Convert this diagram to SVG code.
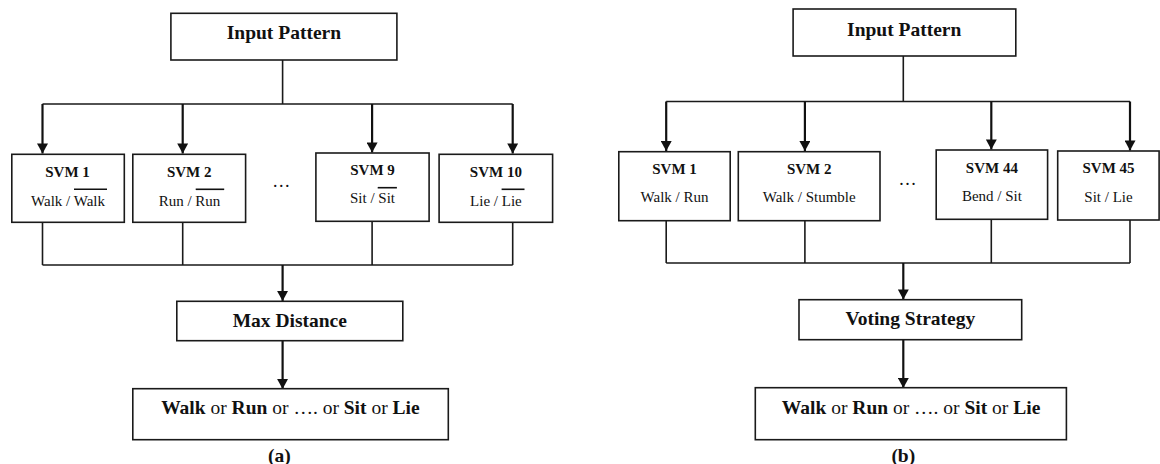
<svg xmlns="http://www.w3.org/2000/svg" width="1160" height="464" viewBox="0 0 1160 464">
<style>
.box{fill:#fff;stroke:#1a1a1a;stroke-width:1.6}
.ln{fill:none;stroke:#1a1a1a;stroke-width:1.6}
.ar{fill:none;stroke:#111;stroke-width:2.2}
.ov{stroke:#111;stroke-width:1.6}
text{font-family:"Liberation Serif","Times New Roman",serif;fill:#111;text-anchor:middle}
.big{font-size:19.5px;font-weight:bold}
.svm{font-size:15px;font-weight:bold}
.sub{font-size:15px}
.b{font-weight:bold}
.n{font-weight:normal}
</style>
<defs>
<marker id="ah" markerUnits="userSpaceOnUse" markerWidth="12" markerHeight="11" refX="11" refY="6" orient="auto" viewBox="0 0 11 12">
<path d="M0,0 L11,6 L0,12 Z" fill="#111"/>
</marker>
</defs>

<g id="connectors">
<!-- left -->
<path class="ln" d="M282.6,60 V104 M42.5,104 H512.7"/>
<path class="ar" d="M42.5,104 V153.5" marker-end="url(#ah)"/>
<path class="ar" d="M182.7,104 V153.5" marker-end="url(#ah)"/>
<path class="ar" d="M372.1,104 V152.5" marker-end="url(#ah)"/>
<path class="ar" d="M512.7,104 V153.5" marker-end="url(#ah)"/>
<path class="ln" d="M42.5,222.3 V265 M182.7,222.3 V265 M372.1,221.3 V265 M512.7,222.3 V265 M42.5,265 H512.7"/>
<path class="ar" d="M282.6,265 V301" marker-end="url(#ah)"/>
<path class="ar" d="M282.6,340.7 V389" marker-end="url(#ah)"/>
<!-- right -->
<path class="ln" d="M903.3,56 V101.5 M666.2,101.5 H1130"/>
<path class="ar" d="M666.2,101.5 V151" marker-end="url(#ah)"/>
<path class="ar" d="M804.9,101.5 V151" marker-end="url(#ah)"/>
<path class="ar" d="M991.3,101.5 V149.5" marker-end="url(#ah)"/>
<path class="ar" d="M1130,101.5 V150.5" marker-end="url(#ah)"/>
<path class="ln" d="M666.2,220.7 V263 M804.9,220.7 V263 M991.3,219.3 V263 M1130,220 V263 M666.2,263 H1130"/>
<path class="ar" d="M903.3,263 V299.5" marker-end="url(#ah)"/>
<path class="ar" d="M903.3,339.7 V388" marker-end="url(#ah)"/>
</g>

<!-- left panel -->
<g id="a-input">
<rect class="box" x="170.9" y="13.3" width="226" height="46.7"/>
<text class="big" x="283.9" y="39">Input Pattern</text>
</g>
<g id="a-svm1">
<rect class="box" x="11.8" y="154.3" width="112.5" height="68"/>
<text class="svm" x="67.5" y="176.7">SVM 1</text>
<text class="sub" x="68" y="205.7">Walk / Walk</text>
<line class="ov" x1="74" y1="189.3" x2="107" y2="189.3"/>
</g>
<g id="a-svm2">
<rect class="box" x="132.8" y="154.3" width="112.8" height="68"/>
<text class="svm" x="189.2" y="176.7">SVM 2</text>
<text class="sub" x="189.5" y="205.7">Run / Run</text>
<line class="ov" x1="195.7" y1="189.3" x2="224.2" y2="189.3"/>
</g>
<g id="a-dots">
<text class="sub" x="281.3" y="186.7" style="font-size:18px">…</text>
</g>
<g id="a-svm9">
<rect class="box" x="315.9" y="153" width="113.2" height="68.3"/>
<text class="svm" x="372.5" y="175">SVM 9</text>
<text class="sub" x="372.5" y="203.3">Sit / Sit</text>
<line class="ov" x1="377.7" y1="187.7" x2="396.9" y2="187.7"/>
</g>
<g id="a-svm10">
<rect class="box" x="439.1" y="154.3" width="113.5" height="68"/>
<text class="svm" x="495.9" y="176.7">SVM 10</text>
<text class="sub" x="495.9" y="205.7">Lie / Lie</text>
<line class="ov" x1="501.6" y1="189.3" x2="524.5" y2="189.3"/>
</g>
<g id="a-max">
<rect class="box" x="176.8" y="301.3" width="226" height="39.4"/>
<text class="big" x="289.8" y="327">Max Distance</text>
</g>
<g id="a-out">
<rect class="box" x="132.8" y="388.7" width="315.5" height="51"/>
<text class="big" x="290.4" y="413.7"><tspan class="b">Walk</tspan><tspan class="n"> or </tspan><tspan class="b">Run</tspan><tspan class="n"> or …. or </tspan><tspan class="b">Sit</tspan><tspan class="n"> or </tspan><tspan class="b">Lie</tspan></text>
</g>
<g id="a-caption">
<text class="big" x="279.3" y="462">(a)</text>
</g>

<!-- right panel -->
<g id="b-input">
<rect class="box" x="793.1" y="9" width="222.7" height="47"/>
<text class="big" x="904.2" y="35.7">Input Pattern</text>
</g>
<g id="b-svm1">
<rect class="box" x="618.8" y="151.7" width="111.4" height="69"/>
<text class="svm" x="674.5" y="174">SVM 1</text>
<text class="sub" x="674.5" y="202.3">Walk / Run</text>
</g>
<g id="b-svm2">
<rect class="box" x="738.3" y="151.7" width="141.7" height="69"/>
<text class="svm" x="809.2" y="174">SVM 2</text>
<text class="sub" x="809.2" y="202.3">Walk / Stumble</text>
</g>
<g id="b-dots">
<text class="sub" x="907.4" y="185.3" style="font-size:18px">…</text>
</g>
<g id="b-svm44">
<rect class="box" x="936.2" y="150" width="111.4" height="69.3"/>
<text class="svm" x="991.9" y="172.7">SVM 44</text>
<text class="sub" x="991.9" y="201.3">Bend / Sit</text>
</g>
<g id="b-svm45">
<rect class="box" x="1057.7" y="151" width="101.4" height="69"/>
<text class="svm" x="1108.5" y="173.3">SVM 45</text>
<text class="sub" x="1108.5" y="201.7">Sit / Lie</text>
</g>
<g id="b-vote">
<rect class="box" x="799" y="299.7" width="222.7" height="40"/>
<text class="big" x="910.3" y="325.3">Voting Strategy</text>
</g>
<g id="b-out">
<rect class="box" x="755.3" y="387.7" width="311.1" height="52"/>
<text class="big" x="911.1" y="413.7"><tspan class="b">Walk</tspan><tspan class="n"> or </tspan><tspan class="b">Run</tspan><tspan class="n"> or …. or </tspan><tspan class="b">Sit</tspan><tspan class="n"> or </tspan><tspan class="b">Lie</tspan></text>
</g>
<g id="b-caption">
<text class="big" x="903.3" y="462">(b)</text>
</g>
</svg>
